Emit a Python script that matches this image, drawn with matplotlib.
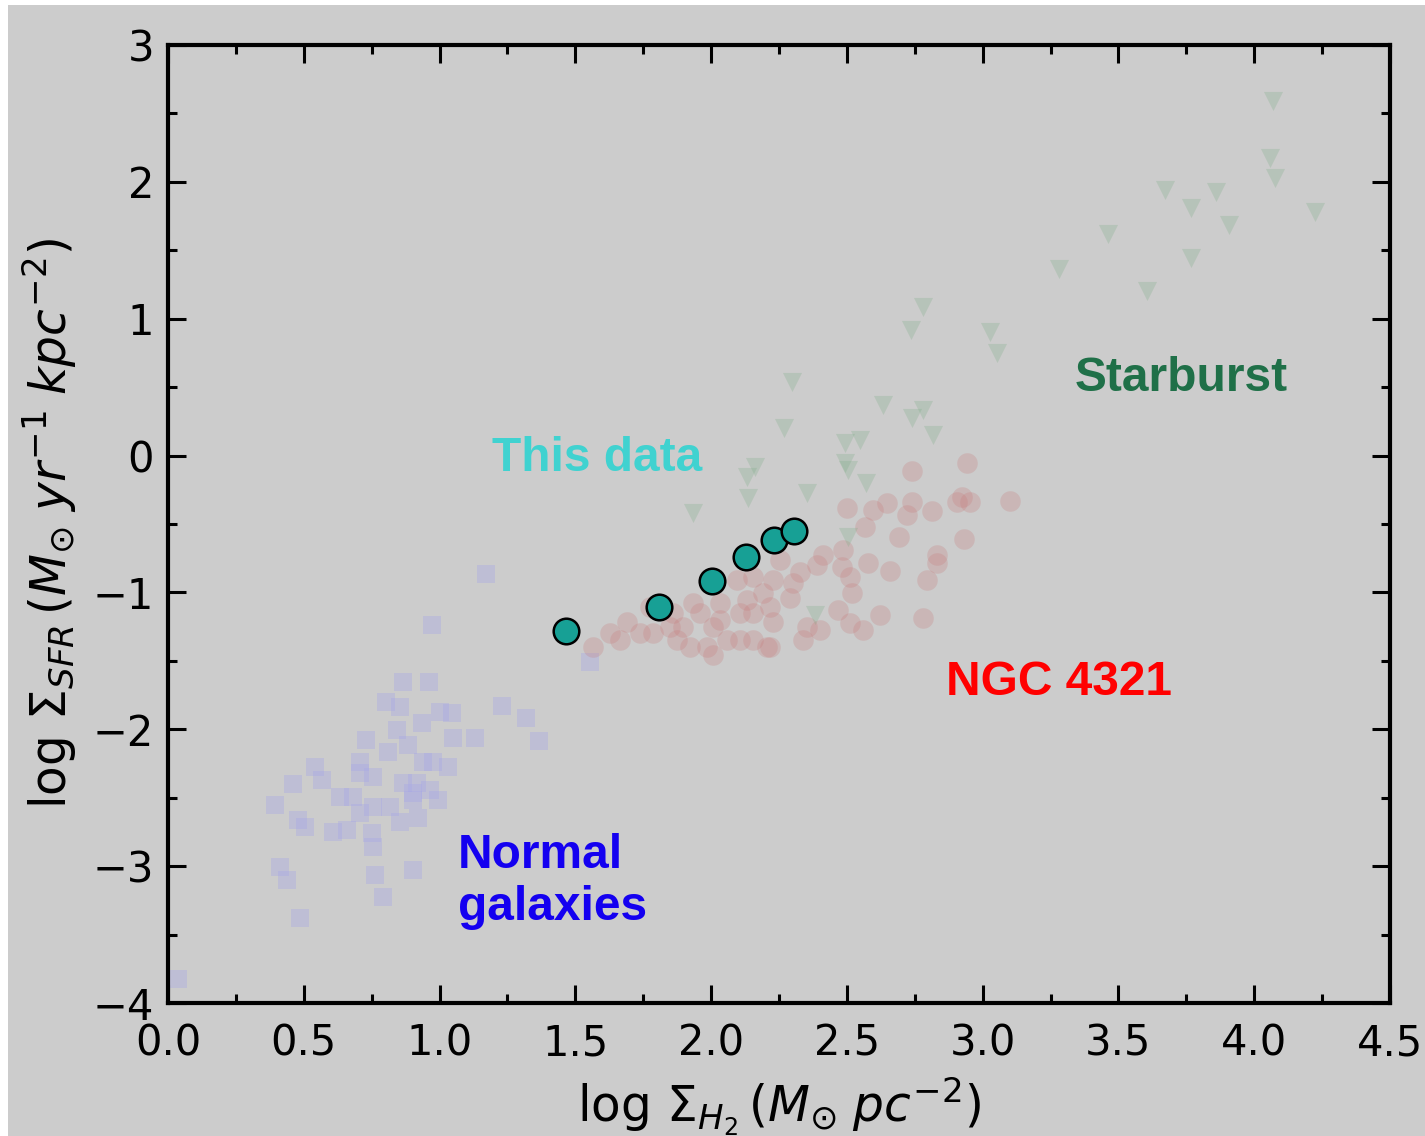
"""
Kennicutt-Schmidt: log Sigma_SFR vs log Sigma_H2, points de ce travail sur fond des échantillons de référence.
"""

import matplotlib
matplotlib.use("Agg")
import matplotlib.pyplot as plt
from matplotlib.patches import Rectangle
from matplotlib.ticker import MultipleLocator

# --- données ---
normal_x = [1.171, 0.972, 0.865, 0.961, 0.803, 0.854, 1.230, 1.001, 1.046, 1.318,
            0.935, 0.843, 0.729, 1.049, 1.130, 1.366, 0.810, 0.884, 0.707, 0.541,
            0.939, 0.976, 1.031, 0.567, 0.460, 0.707, 0.755, 0.865, 0.917, 0.633,
            0.681, 0.394, 0.902, 0.965, 0.902, 0.994, 0.755, 0.817, 0.707, 0.479,
            0.504, 0.608, 0.659, 0.854, 0.920, 0.751, 0.755, 0.412, 0.438, 0.762,
            0.902, 0.792, 0.486, 0.037, 1.554]
normal_y = [-0.864, -1.237, -1.653, -1.653, -1.799, -1.836, -1.828, -1.872, -1.880, -1.916,
            -1.953, -2.004, -2.077, -2.062, -2.062, -2.084, -2.164, -2.113, -2.237, -2.274,
            -2.237, -2.237, -2.274, -2.369, -2.398, -2.318, -2.347, -2.391, -2.391, -2.493,
            -2.493, -2.552, -2.464, -2.442, -2.515, -2.515, -2.566, -2.566, -2.610, -2.661,
            -2.712, -2.749, -2.734, -2.676, -2.646, -2.756, -2.858, -3.004, -3.099, -3.063,
            -3.026, -3.224, -3.377, -3.823, -1.507]

ngc_x = [2.739, 2.942, 2.500, 2.596, 2.647, 2.739, 2.721, 2.813, 2.905, 2.953,
         2.923, 3.100, 2.566, 2.691, 2.931, 2.412, 2.390, 2.485, 2.482, 2.577,
         2.658, 2.831, 2.831, 2.795, 2.327, 2.301, 2.511, 2.518, 2.290, 2.467,
         2.622, 2.780, 2.511, 2.559, 2.353, 2.338, 2.401, 2.095, 2.154, 2.228,
         2.191, 2.253, 2.132, 2.106, 2.154, 2.217, 2.228, 2.032, 2.032, 2.007,
         1.933, 1.959, 1.896, 1.859, 1.848, 1.775, 1.690, 1.738, 1.786, 1.874,
         1.922, 1.985, 2.058, 2.106, 2.154, 2.205, 1.627, 1.664, 1.565, 2.007,
         2.217]
ngc_y = [-0.112, -0.053, -0.382, -0.397, -0.345, -0.338, -0.433, -0.404, -0.338, -0.338,
         -0.302, -0.331, -0.521, -0.594, -0.608, -0.725, -0.798, -0.689, -0.813, -0.784,
         -0.842, -0.725, -0.784, -0.908, -0.849, -0.930, -0.886, -1.003, -1.039, -1.127,
         -1.164, -1.186, -1.222, -1.273, -1.251, -1.346, -1.273, -0.908, -0.886, -0.908,
         -1.003, -0.762, -1.054, -1.149, -1.149, -1.105, -1.215, -1.076, -1.200, -1.251,
         -1.076, -1.149, -1.251, -1.149, -1.251, -1.105, -1.215, -1.295, -1.295, -1.346,
         -1.397, -1.397, -1.346, -1.346, -1.346, -1.397, -1.295, -1.346, -1.397, -1.456,
         -1.397]

sb_x = [2.780, 2.736, 3.027, 3.052, 2.298, 2.633, 2.780, 2.739, 2.817, 2.268,
        2.493, 2.548, 2.493, 2.504, 2.161, 2.132, 2.135, 2.570, 2.353, 1.933,
        2.504, 2.382, 4.069, 4.057, 4.076, 3.671, 3.859, 3.767, 3.906, 4.223,
        3.461, 3.767, 3.281, 3.605]
sb_y = [1.086, 0.918, 0.904, 0.750, 0.538, 0.370, 0.334, 0.275, 0.151, 0.202,
        0.093, 0.115, -0.053, -0.104, -0.083, -0.156, -0.309, -0.199, -0.272, -0.419,
        -0.594, -1.164, 2.591, 2.175, 2.028, 1.941, 1.926, 1.809, 1.685, 1.780,
        1.619, 1.444, 1.364, 1.203]

this_x = [1.465, 1.808, 2.003, 2.128, 2.231, 2.305]
this_y = [-1.281, -1.105, -0.915, -0.740, -0.616, -0.550]

BG = "#cccccc"

fig = plt.figure(figsize=(14.25, 11.36), dpi=100, facecolor="white")
# fond gris (petite marge blanche en haut et à gauche)
fig.patches.append(Rectangle((8 / 1425, 0), 1 - 8 / 1425, 1 - 5 / 1136,
                             transform=fig.transFigure, facecolor=BG,
                             edgecolor="none", zorder=-10))
ax = fig.add_axes([168 / 1425, 1 - 1003 / 1136, (1390 - 168) / 1425, (1003 - 45) / 1136])
ax.set_facecolor(BG)

# échantillons de référence, estompés
ax.scatter(normal_x, normal_y, marker="s", s=180, color=(0.66, 0.66, 0.9),
           alpha=0.38, linewidths=0, zorder=2)
ax.scatter(ngc_x, ngc_y, marker="o", s=220, color=(0.78, 0.47, 0.47),
           alpha=0.25, linewidths=0, zorder=2)
ax.scatter(sb_x, sb_y, marker="v", s=190, color=(0.47, 0.67, 0.51),
           alpha=0.25, linewidths=0, zorder=2)

# ce travail
ax.scatter(this_x, this_y, marker="o", s=340, color="#17a095",
           edgecolors="black", linewidths=1.8, zorder=5)

# étiquettes
lab = dict(fontfamily="Liberation Sans", fontweight="bold", fontsize=34.5, va="center")
ax.text(1.193, -0.02, "This data", color="#40d2d0", **lab)
ax.text(3.339, 0.56, "Starburst", color="#1f7048", **lab)
ax.text(2.865, -1.66, "NGC 4321", color="#ff0000", **lab)
ax.text(1.068, -3.11, "Normal\ngalaxies", color="#1400f0", linespacing=1.2, **lab)

ax.set_xlim(0, 4.5)
ax.set_ylim(-4, 3)
ax.xaxis.set_major_locator(MultipleLocator(0.5))
ax.xaxis.set_minor_locator(MultipleLocator(0.25))
ax.yaxis.set_major_locator(MultipleLocator(1))
ax.yaxis.set_minor_locator(MultipleLocator(0.5))
ax.tick_params(which="both", direction="in", top=True, right=True, width=2.2, color="black")
ax.tick_params(which="major", length=13, labelsize=30)
ax.tick_params(axis="x", which="major", pad=14)
ax.tick_params(axis="y", which="major", pad=10)
ax.tick_params(which="minor", length=6.5)
for sp in ax.spines.values():
    sp.set_linewidth(3)

ax.set_xlabel(r"log $\Sigma_{H_2}\,(M_{\odot}\;pc^{-2})$", fontsize=35, labelpad=8)
ax.set_ylabel(r"log $\Sigma_{SFR}\,(M_{\odot}\;yr^{-1}\;kpc^{-2})$", fontsize=35, labelpad=10)

fig.savefig("out.png", dpi=100, facecolor=fig.get_facecolor())
